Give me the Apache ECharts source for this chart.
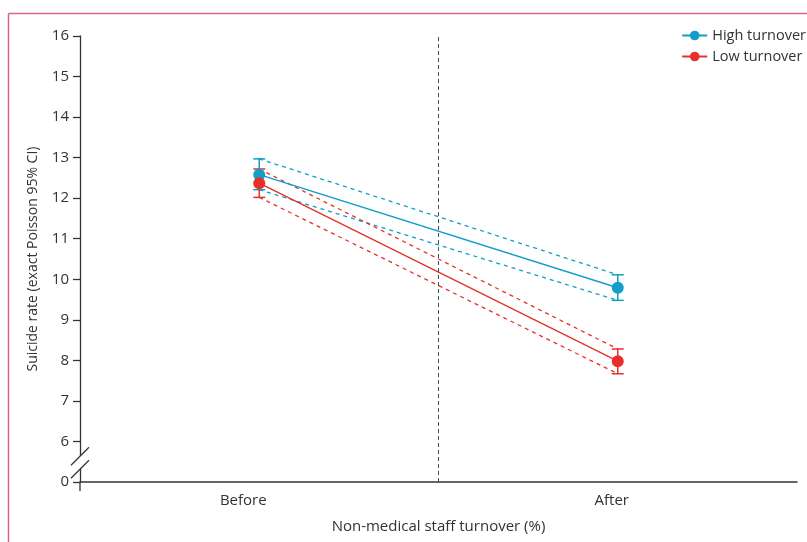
<!DOCTYPE html>
<html><head><meta charset="utf-8">
<script src="https://cdn.jsdelivr.net/npm/echarts@6/dist/echarts.min.js"></script>
<style>html,body{margin:0;padding:0;background:#fff}#c{width:807px;height:542px}</style>
</head><body><div id="c"></div>
<script>
var categories = ['Before', 'After'];
var categoryPos = [0.5, 1.5];
var highRate = [12.58, 9.79];
var highLower = [12.21, 9.48];
var highUpper = [12.97, 10.11];
var lowRate = [12.37, 7.98];
var lowLower = [12.02, 7.67];
var lowUpper = [12.72, 8.28];
// axis is broken: position 5 represents 0
var yTickValues = [5, 6, 7, 8, 9, 10, 11, 12, 13, 14, 15, 16];
var yTickLabels = ['0', '6', '7', '8', '9', '10', '11', '12', '13', '14', '15', '16'];

var TEAL = '#119ec8', RED = '#e8302a';
var FONT = 'Open Sans';

function pts(arr) { return arr.map(function (v, i) { return [categoryPos[i], v]; }); }
function errData(lo, hi) { return lo.map(function (v, i) { return [categoryPos[i], v, hi[i]]; }); }

function errSeries(lo, hi, color) {
  return {
    type: 'custom', silent: true, z: 3,
    data: errData(lo, hi),
    renderItem: function (params, api) {
      var x = api.value(0);
      var a = api.coord([x, api.value(1)]);
      var b = api.coord([x, api.value(2)]);
      var w = 6;
      var st = { stroke: color, lineWidth: 1.5 };
      return { type: 'group', children: [
        { type: 'line', shape: { x1: a[0], y1: a[1], x2: b[0], y2: b[1] }, style: st },
        { type: 'line', shape: { x1: a[0] - w, y1: a[1], x2: a[0] + w, y2: a[1] }, style: st },
        { type: 'line', shape: { x1: b[0] - w, y1: b[1], x2: b[0] + w, y2: b[1] }, style: st }
      ] };
    }
  };
}
function dashSeries(arr, color) {
  return { type: 'line', data: pts(arr), symbol: 'none', silent: true, z: 2,
    lineStyle: { color: color, width: 1.3, type: [4, 4] } };
}

var chart = echarts.init(document.getElementById('c'));
var option = {
  animation: false,
  grid: { left: 80, right: 10, top: 36, bottom: 60 },
  legend: {
    right: 1, top: 28, padding: 0, orient: 'vertical', itemGap: 6, itemWidth: 25, itemHeight: 12,
    textStyle: { fontFamily: FONT, fontSize: 14.5, color: '#333' },
    data: ['High turnover', 'Low turnover']
  },
  xAxis: {
    type: 'value', min: 0, max: 2,
    splitLine: { show: false },
    axisLine: { show: true, onZero: false, lineStyle: { color: '#333', width: 1.5 } },
    axisTick: { show: false },
    axisLabel: {
      customValues: categoryPos, margin: 11,
      formatter: function (v) {
        var i = categoryPos.indexOf(v);
        return i === 0 ? '{a|' + categories[0] + '}' : '{b|' + categories[i] + '}';
      },
      rich: {
        a: { fontFamily: FONT, fontSize: 15, color: '#333', padding: [0, 32, 0, 0] },
        b: { fontFamily: FONT, fontSize: 15, color: '#333', padding: [0, 12, 0, 0] }
      }
    },
    name: 'Non-medical staff turnover (%)', nameLocation: 'middle', nameGap: 37,
    nameTextStyle: { fontFamily: FONT, fontSize: 15, color: '#333' }
  },
  yAxis: {
    type: 'value', min: 5, max: 16, interval: 1,
    splitLine: { show: false },
    axisLine: { show: true, lineStyle: { color: '#333', width: 1.3 } },
    axisTick: { show: true, inside: false, length: 7, lineStyle: { color: '#333', width: 1.3 } },
    axisLabel: {
      fontFamily: FONT, fontSize: 15, color: '#333', margin: 11,
      formatter: function (v) { var i = yTickValues.indexOf(v); return i >= 0 ? yTickLabels[i] : ''; }
    },
    name: 'Suicide rate (exact Poisson 95% CI)', nameLocation: 'middle', nameGap: 40,
    nameTextStyle: { fontFamily: FONT, fontSize: 14, color: '#333' }
  },
  series: [
    { name: 'High turnover', type: 'line', data: pts(highRate), z: 4,
      symbol: 'circle', symbolSize: 12, color: TEAL,
      itemStyle: { color: TEAL }, lineStyle: { color: TEAL, width: 1.4 },
      markLine: { silent: true, symbol: 'none', label: { show: false },
        lineStyle: { color: '#3b5566', type: [4, 3], width: 1 },
        data: [{ xAxis: 1 }] } },
    { name: 'Low turnover', type: 'line', data: pts(lowRate), z: 4,
      symbol: 'circle', symbolSize: 12, color: RED,
      itemStyle: { color: RED }, lineStyle: { color: RED, width: 1.4 } },
    dashSeries(highUpper, TEAL), dashSeries(highLower, TEAL),
    dashSeries(lowUpper, RED), dashSeries(lowLower, RED),
    errSeries(highLower, highUpper, TEAL),
    errSeries(lowLower, lowUpper, RED)
  ]
};
chart.setOption(option);

// decorations: frame, axis extension and break marks
var p0 = chart.convertToPixel({ gridIndex: 0 }, [0, 5]);
var p6 = chart.convertToPixel({ gridIndex: 0 }, [0, 6]);
var ax = p0[0], y0 = p0[1], y6 = p6[1];
var mid = (y0 + y6) / 2 + 1;
var dx = 9, dy = 9, gap = 6.5;
chart.setOption({
  graphic: [
    { type: 'line', shape: { x1: 8.5, y1: 13.5, x2: 807, y2: 13.5 }, style: { stroke: '#d8648a', lineWidth: 1.5 } },
    { type: 'line', shape: { x1: 8.5, y1: 13.5, x2: 8.5, y2: 542 }, style: { stroke: '#d8648a', lineWidth: 1.5 } },
    { type: 'line', shape: { x1: ax, y1: y0, x2: ax, y2: y0 + 9 }, style: { stroke: '#333', lineWidth: 1.3 } },
    { type: 'polygon', z: 100, shape: { points: [[ax - dx, mid - gap + dy], [ax + dx, mid - gap - dy], [ax + dx, mid + gap - dy], [ax - dx, mid + gap + dy]] }, style: { fill: '#fff' } },
    { type: 'line', z: 101, shape: { x1: ax - dx, y1: mid - gap + dy, x2: ax + dx, y2: mid - gap - dy }, style: { stroke: '#333', lineWidth: 1.3 } },
    { type: 'line', z: 101, shape: { x1: ax - dx, y1: mid + gap + dy, x2: ax + dx, y2: mid + gap - dy }, style: { stroke: '#333', lineWidth: 1.3 } }
  ]
});
</script></body></html>
